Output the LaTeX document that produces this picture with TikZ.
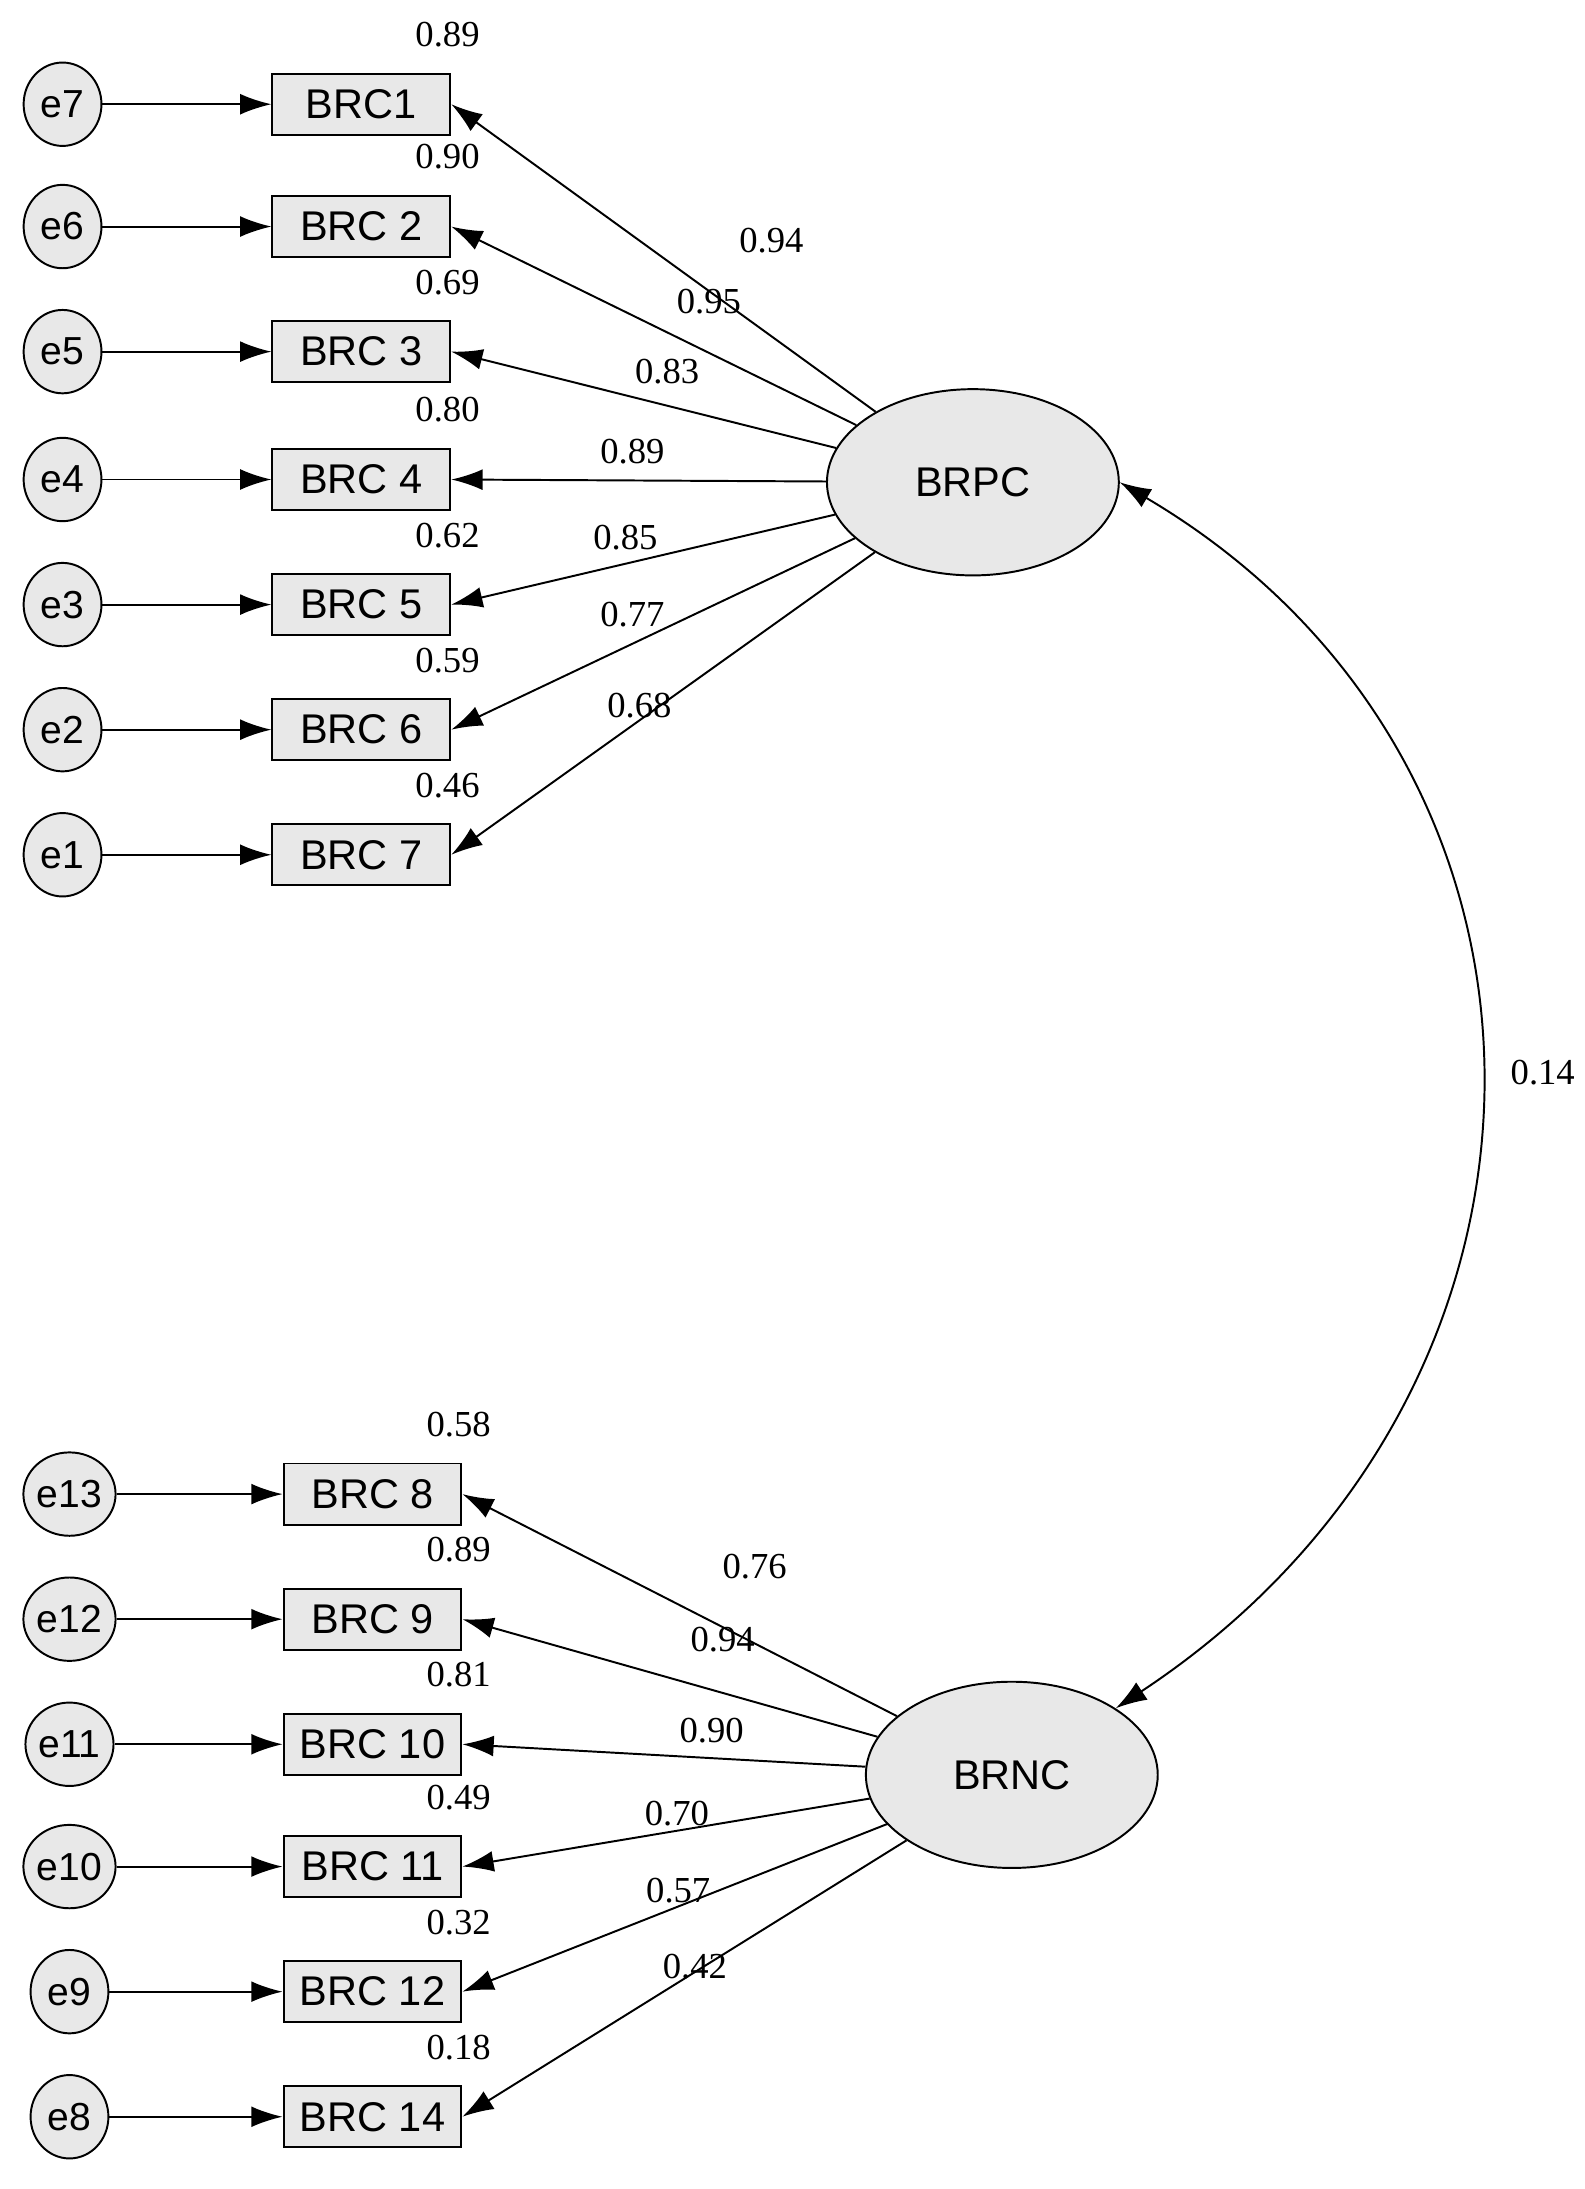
\documentclass[tikz,border=0pt]{standalone}
\usepackage{fontspec}
\setmainfont{Liberation Sans}
\newfontfamily\numfont{Liberation Serif}
\usetikzlibrary{positioning}
\usetikzlibrary{arrows.meta}
\usetikzlibrary{shapes.geometric}

\begin{document}
\begin{tikzpicture}[x=0.02cm,y=-0.02cm,
    err/.style={shape=ellipse,draw=black,thick,fill=gray!18,minimum width=56*0.02cm,minimum height=60*0.02cm,inner sep=0pt,font=\fontsize{16}{18}\selectfont},
    obs/.style={shape=rectangle,draw=black,thick,fill=gray!18,minimum width=128*0.02cm,minimum height=44*0.02cm,inner sep=0pt,font=\fontsize{17}{20}\selectfont},
    lat/.style={shape=ellipse,draw=black,thick,fill=gray!18,minimum width=210*0.02cm,minimum height=134*0.02cm,font=\fontsize{17}{20}\selectfont},
    num/.style={font=\numfont\fontsize{15}{17}\selectfont,inner sep=1pt},
    arr/.style={-{Latex[length=4.5mm, width=3mm]},thick}]
    \useasboundingbox (0,0) rectangle (1140,1575);

    % upper factor
    \node[lat] (BRPC) at (700,347) {BRPC};
    \foreach \i/\e/\t/\y/\r/\l/\lx/\ly in {1/e7/BRC1/75/0.89/0.94/555/173, 2/e6/BRC 2/163/0.90/0.95/510/217, 3/e5/BRC 3/253/0.69/0.83/480/267, 4/e4/BRC 4/345/0.80/0.89/455/325, 5/e3/BRC 5/435/0.62/0.85/450/387, 6/e2/BRC 6/525/0.59/0.77/455/442, 7/e1/BRC 7/615/0.46/0.68/460/508}{
        \node[err] (E_\i) at (45,\y) {\e};
        \node[obs] (B_\i) at (260,\y) {\t};
        \node[num] at (322,\y-50) {\r};
        \node[num] at (\lx,\ly) {\l};
        \draw[arr] (E_\i) -- (B_\i);
        \draw[arr] (BRPC) -- (B_\i.east);
    }

    % lower factor
    \node[lat] (BRNC) at (728,1277) {BRNC};
    \foreach \i/\e/\t/\y/\r/\l/\lx/\ly in {8/e13/BRC 8/1075/0.58/0.76/543/1127, 9/e12/BRC 9/1165/0.89/0.94/520/1180, 10/e11/BRC 10/1255/0.81/0.90/512/1245, 11/e10/BRC 11/1343/0.49/0.70/487/1305, 12/e9/BRC 12/1433/0.32/0.57/488/1360, 14/e8/BRC 14/1523/0.18/0.42/500/1415}{
        \node[err] (E_\i) at (50,\y) {\e};
        \node[obs] (B_\i) at (268,\y) {\t};
        \node[num] at (330,\y-50) {\r};
        \node[num] at (\lx,\ly) {\l};
        \draw[arr] (E_\i) -- (B_\i);
        \draw[arr] (BRNC) -- (B_\i.east);
    }

    % covariance
    \coordinate (cov_a) at (BRPC.east);
    \coordinate (cov_b) at (BRNC.north east);
    \draw[arr,{Latex[length=4.5mm, width=3mm]}-{Latex[length=4.5mm, width=3mm]}] (cov_a) .. controls (1150,550) and (1150,1000) .. (cov_b);
    \node[num] (cov) at (1110,772) {0.14};
\end{tikzpicture}
\end{document}
